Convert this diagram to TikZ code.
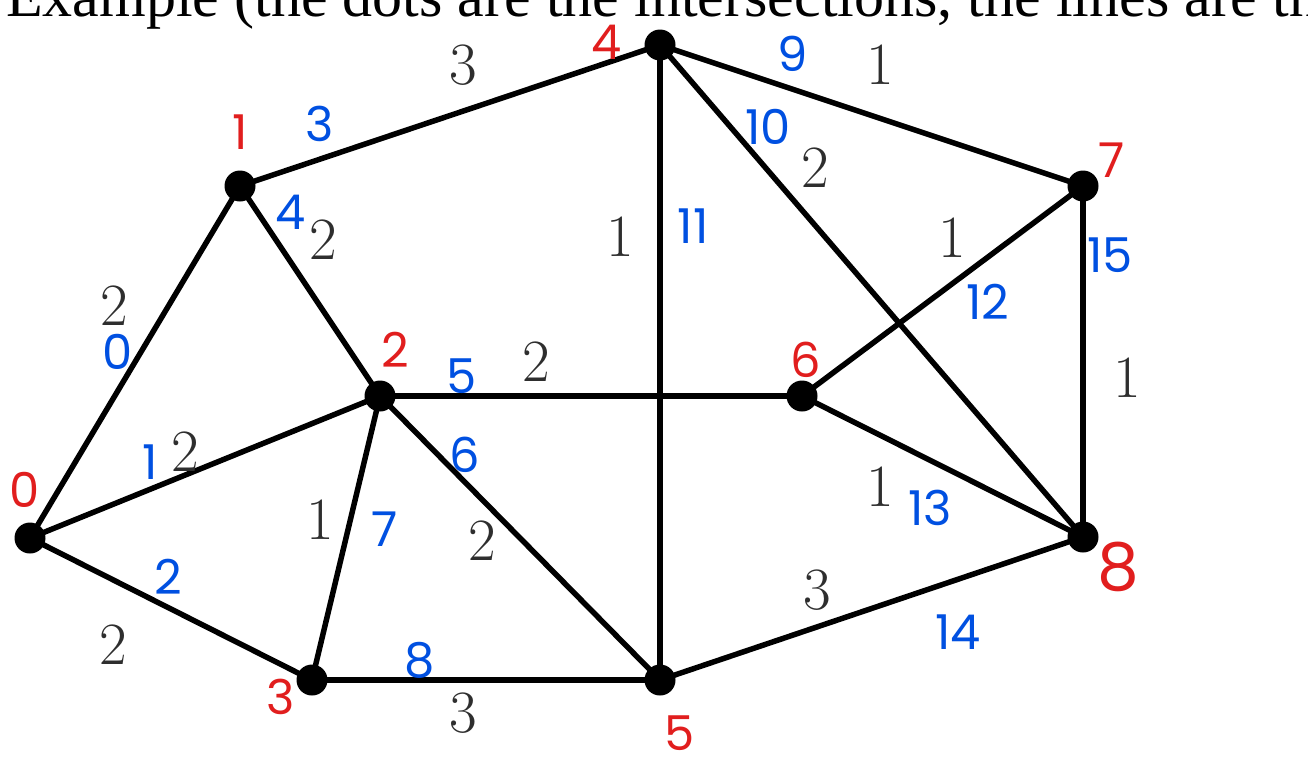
\documentclass[tikz,border=0pt]{standalone}
\usepackage{fontspec}
\newfontfamily\hand{Poppins}
\newfontfamily\timesf{Liberation Serif}
\begin{document}
\begin{tikzpicture}[x=1pt,y=-1pt,
  dot/.style={circle,fill=black,inner sep=0pt,minimum size=31pt},
  edge/.style={line width=5.5pt},
  wt/.style={text=black!82,font=\fontsize{60}{60}\selectfont,inner sep=0pt},
  idx/.style={text={rgb,255:red,0;green,80;blue,225},font=\hand\fontsize{48}{48}\selectfont,inner sep=0pt},
  vid/.style={text={rgb,255:red,225;green,30;blue,30},font=\hand\fontsize{48}{48}\selectfont,inner sep=0pt}]
\useasboundingbox[fill=white] (0,0) rectangle (1308,766);
\node[anchor=base west,inner sep=0pt,font=\timesf\fontsize{60}{60}\selectfont] (title) at (6,16) {Example (the dots are the intersections, the lines are the};
\node[dot] (n0) at (30,538) {};
\node[dot] (n1) at (240,186) {};
\node[dot] (n2) at (380,396) {};
\node[dot] (n3) at (312,680) {};
\node[dot] (n4) at (660,45) {};
\node[dot] (n5) at (660,680) {};
\node[dot] (n6) at (802,396) {};
\node[dot] (n7) at (1083,186) {};
\node[dot] (n8) at (1083,537) {};
\foreach \a/\b in {n0/n1,n0/n2,n0/n3,n1/n2,n1/n4,n2/n3,n2/n5,n2/n6,n3/n5,n4/n5,n4/n7,n4/n8,n6/n7,n6/n8,n5/n8,n7/n8}
  \draw[edge] (\a.center) -- (\b.center);
% weights
\node[wt] (w1) at (463,65) {3};
\node[wt] (w2) at (880,65) {1};
\node[wt] (w3) at (815,168) {2};
\node[wt] (w4) at (323,240) {2};
\node[wt] (w5) at (620,237) {1};
\node[wt] (w6) at (952,238) {1};
\node[wt] (w7) at (114,306) {2};
\node[wt] (w8) at (536,362) {2};
\node[wt] (w9) at (1127,378) {1};
\node[wt] (w10) at (185,452) {2};
\node[wt] (w11) at (880,487) {1};
\node[wt] (w12) at (320,520) {1};
\node[wt] (w13) at (482,541) {2};
\node[wt] (w14) at (817,590) {3};
\node[wt] (w15) at (113,645) {2};
\node[wt] (w16) at (463,713) {3};
% edge indices
\node[idx] (e0) at (118,352) {0};
\node[idx] (e1) at (150,462) {1};
\node[idx] (e2) at (168,577) {2};
\node[idx] (e3) at (320,124) {3};
\node[idx] (e4) at (291,212) {4};
\node[idx] (e5) at (462,376) {5};
\node[idx] (e6) at (465,455) {6};
\node[idx] (e7) at (385,529) {7};
\node[idx] (e8) at (420,660) {8};
\node[idx] (e9) at (793,54) {9};
\node[idx] (e10) at (768,127) {10};
\node[idx] (e11) at (693,226) {11};
\node[idx] (e12) at (988,302) {12};
\node[idx] (e13) at (930,508) {13};
\node[idx] (e14) at (958,632) {14};
\node[idx] (e15) at (1110,255) {15};
% vertex ids
\node[vid] (v0) at (25,490) {0};
\node[vid] (v1) at (240,132) {1};
\node[vid] (v2) at (395,350) {2};
\node[vid] (v3) at (281,697) {3};
\node[vid] (v4) at (607,42) {4};
\node[vid] (v5) at (680,733) {5};
\node[vid] (v6) at (806,360) {6};
\node[vid] (v7) at (1112,160) {7};
\node[vid,font=\hand\fontsize{66}{66}\selectfont] (v8) at (1118,567) {8};
\end{tikzpicture}
\end{document}
